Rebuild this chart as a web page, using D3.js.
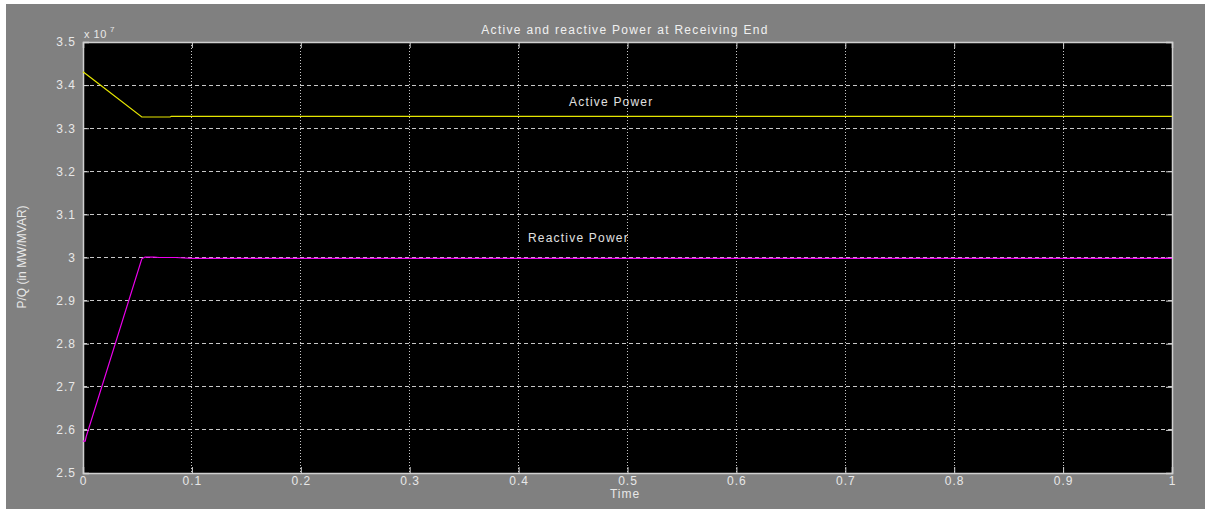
<!DOCTYPE html>
<html><head><meta charset="utf-8">
<script src="https://cdn.jsdelivr.net/npm/d3@7"></script>
<style>
html,body{margin:0;padding:0;background:#fff;}
svg text{font-family:"Liberation Sans",Arial,sans-serif;}
</style></head>
<body>
<svg id="c" width="1205" height="509"></svg>
<script>
const title = "Active and reactive Power at Receiving End";
const xLabel = "Time";
const yLabel = "P/Q (in MW/MVAR)";
const xTicks = [0,0.1,0.2,0.3,0.4,0.5,0.6,0.7,0.8,0.9,1];
const yTicks = [2.5,2.6,2.7,2.8,2.9,3.0,3.1,3.2,3.3,3.4,3.5];
const yTickLabels = ["2.5","2.6","2.7","2.8","2.9","3","3.1","3.2","3.3","3.4","3.5"];
const activeT = [0, 0.012, 0.054, 0.080, 0.081, 1.0];
const activeP = [3.431, 3.408, 3.326, 3.326, 3.3275, 3.3275];
const reactiveT = [0, 0.002, 0.003, 0.054, 0.057, 0.065, 0.07, 0.085, 0.10, 0.15, 1.0];
const reactiveQ = [2.574, 2.574, 2.585, 2.997, 3.001, 3.001, 3.0, 3.0, 2.998, 2.998, 2.998];
const seriesNames = ["Active Power", "Reactive Power"];

const svg = d3.select("#c");
svg.append("rect").attr("x",6).attr("y",4).attr("width",1199).attr("height",505).attr("fill","#808080");
const L=83, R=1172, T=42, B=473;
const x = d3.scaleLinear().domain([0,1]).range([L,R]);
const y = d3.scaleLinear().domain([2.5,3.5]).range([B,T]);
svg.append("rect").attr("x",L).attr("y",T).attr("width",R-L).attr("height",B-T).attr("fill","#000");

// grid
svg.append("g").selectAll("line").data(yTicks.slice(1,-1)).join("line")
  .attr("x1",L).attr("x2",R).attr("y1",d=>y(d)).attr("y2",d=>y(d))
  .attr("stroke","#c8c8c8").attr("stroke-width",1).attr("stroke-dasharray","4,3")
  .attr("shape-rendering","crispEdges");
svg.append("g").selectAll("line").data(xTicks.slice(1,-1)).join("line")
  .attr("x1",d=>x(d)).attr("x2",d=>x(d)).attr("y1",T).attr("y2",B)
  .attr("stroke","#c8c8c8").attr("stroke-width",1).attr("stroke-dasharray","1,2")
  .attr("shape-rendering","crispEdges");

// axes
const ax = svg.append("g").attr("transform",`translate(0,${B})`)
  .call(d3.axisBottom(x).tickValues(xTicks).tickFormat(d=>d3.format("")(+d.toFixed(1))).tickSize(-6).tickPadding(3));
const ay = svg.append("g").attr("transform",`translate(${L},0)`)
  .call(d3.axisLeft(y).tickValues(yTicks).tickFormat((d,i)=>yTickLabels[i]).tickSize(-6).tickPadding(7));
const axT = svg.append("g").attr("transform",`translate(0,${T})`)
  .call(d3.axisTop(x).tickValues(xTicks).tickFormat("").tickSize(-6));
const ayR = svg.append("g").attr("transform",`translate(${R},0)`)
  .call(d3.axisRight(y).tickValues(yTicks).tickFormat("").tickSize(-6));
[ax,ay,axT,ayR].forEach(g=>{
  g.selectAll("path").attr("stroke","#d0d0d0").attr("stroke-width",1.5);
  g.selectAll("line").attr("stroke","#d0d0d0");
  g.selectAll("text").attr("fill","#e8e8e8").attr("font-size",12).attr("letter-spacing","1px");
});

svg.append("text").attr("x",84).attr("y",38).attr("fill","#e8e8e8").attr("font-size",11).attr("letter-spacing","0.5px").text("x 10");
svg.append("text").attr("x",110).attr("y",32).attr("fill","#e8e8e8").attr("font-size",8).text("7");

// lines
const line = d3.line().x(d=>x(d[0])).y(d=>y(d[1]));
svg.append("path").datum(activeT.map((t,i)=>[t,activeP[i]])).attr("d",line)
  .attr("fill","none").attr("stroke","#e6e600").attr("stroke-width",1.2);
svg.append("path").datum(reactiveT.map((t,i)=>[t,reactiveQ[i]])).attr("d",line)
  .attr("fill","none").attr("stroke","#ee00ee").attr("stroke-width",1.2);

// labels
svg.append("text").attr("x",569).attr("y",106).attr("fill","#e0e0e0").attr("font-size",12).attr("letter-spacing","1.2px").text(seriesNames[0]);
svg.append("text").attr("x",528).attr("y",242).attr("fill","#e0e0e0").attr("font-size",12).attr("letter-spacing","1.2px").text(seriesNames[1]);
svg.append("text").attr("x",625).attr("y",34).attr("text-anchor","middle").attr("fill","#f0f0f0").attr("font-size",12).attr("letter-spacing","1.3px").text(title);
svg.append("text").attr("x",625).attr("y",498).attr("text-anchor","middle").attr("fill","#e8e8e8").attr("font-size",12).attr("letter-spacing","1px").text(xLabel);
svg.append("text").attr("transform","translate(26,257) rotate(-90)").attr("text-anchor","middle").attr("fill","#e8e8e8").attr("font-size",12).attr("letter-spacing","0px").text(yLabel);
</script>
</body></html>
